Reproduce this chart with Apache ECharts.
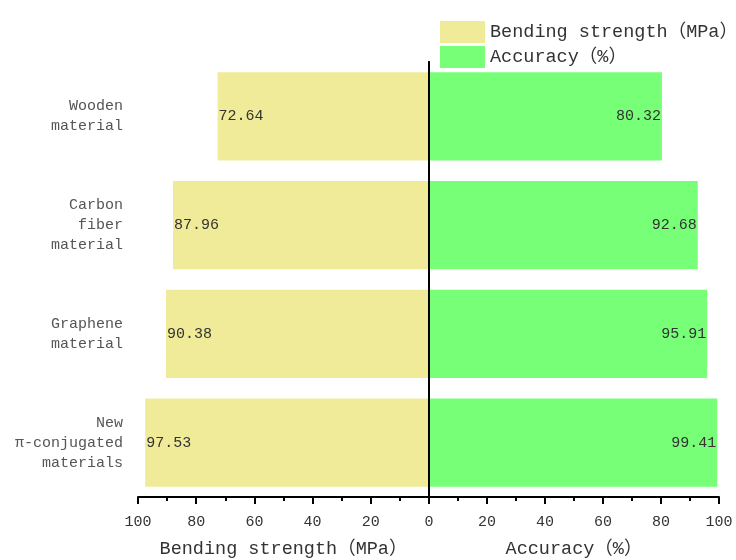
<!DOCTYPE html>
<html>
<head>
<meta charset="utf-8">
<script src="https://cdn.jsdelivr.net/npm/echarts@6/dist/echarts.min.js"></script>
<style>html,body{margin:0;padding:0;background:#fff}#c{width:736px;height:560px}</style>
</head>
<body>
<div id="c"></div>
<script>
const categories = ["Wooden\nmaterial", "Carbon\nfiber\nmaterial", "Graphene\nmaterial", "New\nπ-conjugated\nmaterials"];
const bendingStrength = [72.64, 87.96, 90.38, 97.53];
const accuracy = [80.32, 92.68, 95.91, 99.41];
const seriesNames = ["Bending strength（MPa）", "Accuracy（%）"];
const axisNames = ["Bending strength（MPa）", "Accuracy（%）"];

const FONT = '"Liberation Mono", "Noto Sans CJK SC", monospace';
const chart = echarts.init(document.getElementById('c'));

function xAxisCfg(grid, name, inverse) {
  return {
    gridIndex: grid, type: 'value', min: 0, max: 100, interval: 20, inverse: inverse,
    name: name, nameLocation: 'middle', nameGap: 43,
    nameTextStyle: { fontFamily: FONT, fontSize: 18.5, color: '#333' },
    axisLine: { show: true, lineStyle: { color: '#000', width: 2 } },
    axisTick: { show: true, length: 7, lineStyle: { color: '#000', width: 2 } },
    minorTick: { show: true, splitNumber: 2, length: 4, lineStyle: { color: '#000', width: 2 } },
    splitLine: { show: false },
    axisLabel: { fontFamily: FONT, fontSize: 15, color: '#333', margin: 18, showMinLabel: !inverse }
  };
}

chart.setOption({
  animation: false,
  backgroundColor: '#fff',
  legend: {
    orient: 'vertical', left: 435, top: 16, itemWidth: 45, itemHeight: 22, itemGap: 3,
    icon: 'rect',
    textStyle: { fontFamily: FONT, fontSize: 18.5, color: '#333' },
    data: seriesNames
  },
  grid: [
    { left: 138, right: 307, top: 62, bottom: 63, outerBoundsMode: 'none', containLabel: false },
    { left: 429, right: 17, top: 62, bottom: 63, outerBoundsMode: 'none', containLabel: false }
  ],
  xAxis: [xAxisCfg(0, axisNames[0], true), xAxisCfg(1, axisNames[1], false)],
  yAxis: [
    {
      gridIndex: 0, type: 'category', data: categories, inverse: true,
      axisLine: { show: true, lineStyle: { color: '#000', width: 2 } },
      axisTick: { show: true, alignWithLabel: true, length: 7, lineStyle: { color: '#000', width: 2 } },
      axisLabel: { fontFamily: FONT, fontSize: 15, color: '#555', lineHeight: 20, margin: 15, align: 'right' }
    },
    {
      gridIndex: 1, type: 'category', data: categories, inverse: true, z: 10,
      axisLine: { show: true, lineStyle: { color: '#000', width: 2 } },
      axisTick: { show: false },
      axisLabel: { show: false }
    }
  ],
  series: [
    {
      name: seriesNames[0], type: 'bar', xAxisIndex: 0, yAxisIndex: 0, data: bendingStrength,
      barWidth: '81%', itemStyle: { color: '#F0EB98' },
      label: { show: true, position: 'insideLeft', distance: 1, fontFamily: FONT, fontSize: 15, color: '#333',
        formatter: p => p.value.toFixed(2) }
    },
    {
      name: seriesNames[1], type: 'bar', xAxisIndex: 1, yAxisIndex: 1, data: accuracy,
      barWidth: '81%', itemStyle: { color: '#77FF77' },
      label: { show: true, position: 'insideRight', distance: 1, fontFamily: FONT, fontSize: 15, color: '#333',
        formatter: p => p.value.toFixed(2) }
    }
  ]
});
</script>
</body>
</html>
